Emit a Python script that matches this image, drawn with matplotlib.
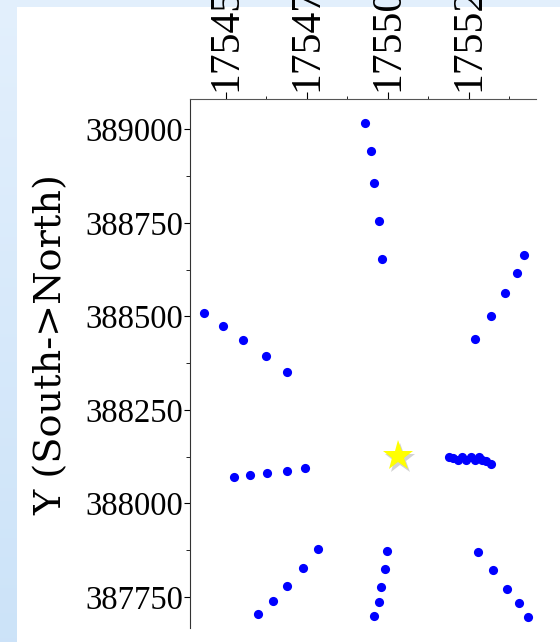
import numpy as np
import matplotlib
matplotlib.use("Agg")
import matplotlib.pyplot as plt
import matplotlib.patheffects as pe
from matplotlib.ticker import MultipleLocator, FormatStrFormatter

# ---- data (easting X, northing Y) ----
north_line_x = [175493.0, 175494.8, 175495.8, 175497.3, 175498.3]
north_line_y = [389017.6, 388942.0, 388855.6, 388755.6, 388654.0]

nw_line_x = [175443.2, 175449.2, 175455.2, 175462.3, 175468.8]
nw_line_y = [388508.0, 388475.0, 388437.0, 388394.0, 388351.0]

ne_line_x = [175527.0, 175531.9, 175536.2, 175539.8, 175542.2]
ne_line_y = [388440.0, 388501.0, 388563.0, 388617.0, 388663.0]

w_line_x = [175452.5, 175457.5, 175462.7, 175468.8, 175474.3]
w_line_y = [388071.0, 388076.5, 388080.0, 388087.0, 388094.0]

e_line_x = [175518.8, 175520.3, 175521.7, 175522.9, 175524.3, 175525.7,
            175527.1, 175528.3, 175529.1, 175530.5, 175532.0]
e_line_y = [388125.0, 388120.0, 388117.0, 388122.5, 388117.0, 388122.5,
            388117.0, 388125.0, 388116.0, 388113.0, 388106.0]

sw_line_x = [175460.0, 175464.5, 175468.8, 175473.8, 175478.6]
sw_line_y = [387704.0, 387740.0, 387779.0, 387828.0, 387877.0]

s_line_x = [175495.6, 175497.2, 175498.0, 175499.0, 175499.8]
s_line_y = [387699.5, 387736.0, 387775.4, 387825.0, 387873.0]

se_line_x = [175527.8, 175532.5, 175536.9, 175540.5, 175543.3]
se_line_y = [387871.0, 387821.0, 387772.0, 387733.0, 387697.0]

source_x = [175503.2]
source_y = [388126.5]

ylabel_text = "Y (South->North)"

# ---- figure ----
W, H = 560, 642
fig = plt.figure(figsize=(W / 100, H / 100), dpi=100)

# light blue gradient background
bg = fig.add_axes([0, 0, 1, 1], zorder=-10)
top_c = np.array([0.89, 0.94, 0.99])
bot_c = np.array([0.80, 0.89, 0.975])
t = np.linspace(0, 1, 256)[:, None]
grad = top_c[None, :] * (1 - t) + bot_c[None, :] * t
bg.imshow(grad[:, None, :], aspect="auto", extent=[0, 1, 0, 1])
bg.add_patch(plt.Rectangle((17 / W, 0), 1 - 17 / W, (H - 7) / H,
                           facecolor="white", edgecolor="none"))
bg.set_xlim(0, 1)
bg.set_ylim(0, 1)
bg.axis("off")

left, right, top, bottom = 190, 536, 99.3, 628
ax = fig.add_axes([left / W, (H - bottom) / H, (right - left) / W, (bottom - top) / H])
ax.set_facecolor("none")

serif = ["Liberation Serif", "DejaVu Serif"]

groups = [(north_line_x, north_line_y), (nw_line_x, nw_line_y), (ne_line_x, ne_line_y),
          (w_line_x, w_line_y), (e_line_x, e_line_y), (sw_line_x, sw_line_y),
          (s_line_x, s_line_y), (se_line_x, se_line_y)]
for gx, gy in groups:
    ax.plot(gx, gy, linestyle="none", marker="o", ms=6.6, color="#0000ff",
            markeredgewidth=0)

ax.plot(source_x, source_y, linestyle="none", marker="*", ms=23, color="#ffff00",
        markeredgewidth=0,
        path_effects=[pe.SimplePatchShadow(offset=(1.5, -2), shadow_rgbFace="gray", alpha=0.35),
                      pe.Normal()])

ax.set_xlim(175438.9, 175545.8)
ax.set_ylim(387666.6, 389080.2)

ax.xaxis.set_major_locator(MultipleLocator(25))
ax.xaxis.set_minor_locator(MultipleLocator(12.5))
ax.yaxis.set_major_locator(MultipleLocator(250))
ax.yaxis.set_minor_locator(MultipleLocator(125))
ax.xaxis.set_major_formatter(FormatStrFormatter("%d"))
ax.yaxis.set_major_formatter(FormatStrFormatter("%d"))

ax.xaxis.tick_top()
ax.tick_params(axis="x", which="major", direction="out", length=5, width=0.8,
               pad=1, labelsize=30, labelrotation=90, colors="black")
ax.tick_params(axis="x", which="minor", direction="out", length=2, width=0.6)
ax.tick_params(axis="y", which="major", direction="out", length=4, width=0.8,
               pad=1, labelsize=23.5, colors="black")
ax.tick_params(axis="y", which="minor", direction="out", length=3, width=0.6)
for lab in ax.get_xticklabels() + ax.get_yticklabels():
    lab.set_fontfamily(serif)

for s in ["right", "bottom"]:
    ax.spines[s].set_visible(False)
ax.spines["left"].set_color("#333333")
ax.spines["top"].set_color("#555555")

fig.text(52 / W, 1 - 345 / H, ylabel_text, rotation=90, ha="center", va="center",
         fontsize=27.5, family=["DejaVu Serif", "Liberation Serif"], color="black")

fig.savefig("out.png", dpi=100)
